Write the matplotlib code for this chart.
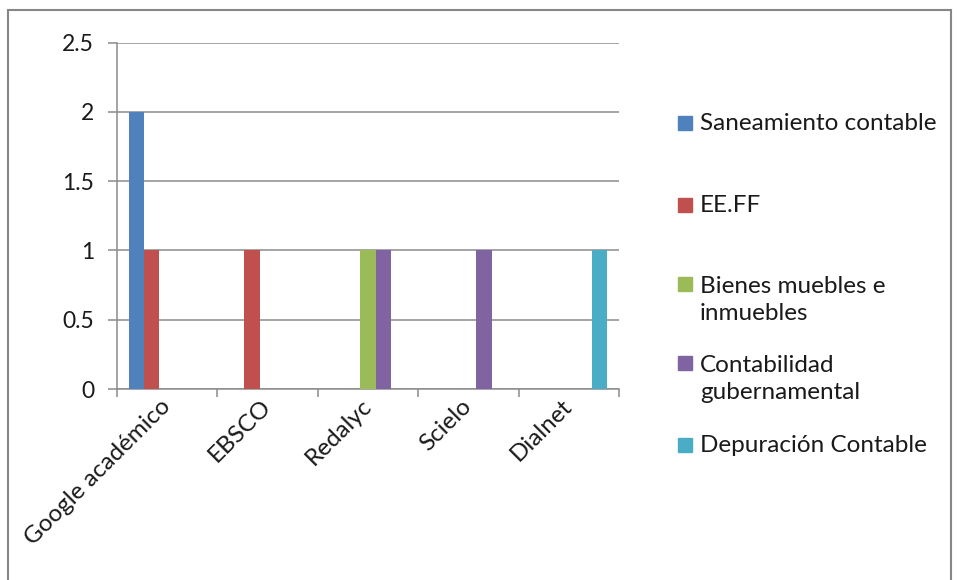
import matplotlib
matplotlib.use('Agg')
import matplotlib.pyplot as plt
from matplotlib.patches import Rectangle
import numpy as np

plt.rcParams['font.family'] = ['Lato', 'DejaVu Sans']

categories = ['Google académico', 'EBSCO', 'Redalyc', 'Scielo', 'Dialnet']
series = ['Saneamiento contable', 'EE.FF', 'Bienes muebles e\ninmuebles',
          'Contabilidad\ngubernamental', 'Depuración Contable']
saneamiento = [2, 0, 0, 0, 0]
eeff = [1, 1, 0, 0, 0]
bienes = [0, 0, 1, 0, 0]
contabilidad = [0, 0, 1, 1, 0]
depuracion = [0, 0, 0, 0, 1]
values = [saneamiento, eeff, bienes, contabilidad, depuracion]
colors = ['#4F81BD', '#C0504D', '#9BBB59', '#8064A2', '#4BACC6']

W, H = 958, 580
fig = plt.figure(figsize=(W / 100, H / 100), dpi=100)
ax = fig.add_axes([117 / W, 1 - 389 / H, (619 - 117) / W, (389 - 42.5) / H])

# excel style: gap width 150%
n = len(series)
w = 1 / (n + 1.5)
x = np.arange(len(categories))
for i, (vals, c) in enumerate(zip(values, colors)):
    ax.bar(x - 0.5 + 0.75 * w + (i + 0.5) * w, vals, width=w, color=c, zorder=3)

ax.set_xlim(-0.5, len(categories) - 0.5)
ax.set_ylim(0, 2.5)
ax.set_yticks([0, 0.5, 1, 1.5, 2, 2.5])
ax.set_yticklabels(['0', '0.5', '1', '1.5', '2', '2.5'])
ax.yaxis.grid(True, color='#8c8c8c', lw=1.1, zorder=0)
for s in ['top', 'right']:
    ax.spines[s].set_visible(False)
for s in ['left', 'bottom']:
    ax.spines[s].set_color('#8c8c8c')
    ax.spines[s].set_linewidth(1.1)
ax.tick_params(axis='y', length=6.5, color='#8c8c8c', width=1.1, pad=10,
               labelsize=16.5, labelcolor='#1a1a1a')
ax.set_xticks(x)
ax.set_xticklabels(categories, rotation=45, ha='right', va='center',
                   rotation_mode='anchor', fontsize=17.5, color='#1a1a1a')
ax.tick_params(axis='x', length=0, pad=10)
ax.set_xticks(np.arange(len(categories) + 1) - 0.5, minor=True)
ax.tick_params(axis='x', which='minor', length=6, color='#8c8c8c', width=1.1)

# legend
sq_y = [123, 205, 284, 363, 445]
txt_y = [123, 205, 300, 379, 445]
for lab, c, sy, ty in zip(series, colors, sq_y, txt_y):
    fig.patches.append(Rectangle((678 / W, 1 - (sy + 7) / H), 14 / W, 14 / H,
                                 transform=fig.transFigure, color=c))
    fig.text(700 / W, 1 - ty / H, lab, fontsize=17.5, color='#1a1a1a',
             va='center', ha='left', linespacing=1.3)

# outer frame
fig.patches.append(Rectangle((8 / W, -0.05), (951 - 8) / W, 1 - 10 / H + 0.05,
                             transform=fig.transFigure, fill=False,
                             edgecolor='#868686', lw=1.5))

fig.savefig('out.png', dpi=100)
